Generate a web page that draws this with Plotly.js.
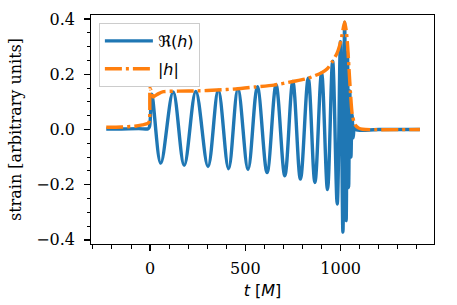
<!DOCTYPE html>
<html>
<head>
<meta charset="utf-8">
<script src="https://cdn.plot.ly/plotly-3.0.1.min.js"></script>
<style>
  html, body { margin: 0; padding: 0; background: white; }
  #chart { width: 457px; height: 305px; }
</style>
</head>
<body>
<div id="chart"></div>
<script>
// Re(h): extrema
const tRe = [-230, -150, -60, -10, -3, 9, 56, 121, 179, 240, 304, 358, 412, 461, 514, 563, 614, 661, 707, 749, 789, 830, 865, 900, 931, 958, 982, 999, 1012, 1021, 1029, 1036, 1042, 1048, 1054, 1060, 1066, 1072, 1080, 1200, 1416];
const reH = [0.002, 0.002, 0.003, 0.003, 0.01, 0.128, -0.122, 0.136, -0.13, 0.138, -0.134, 0.142, -0.142, 0.148, -0.145, 0.155, -0.156, 0.162, -0.168, 0.174, -0.18, 0.186, -0.192, 0.206, -0.218, 0.248, -0.27, 0.318, -0.372, 0.388, -0.33, 0.28, -0.21, 0.14, -0.1, 0.055, -0.03, 0.012, 0.0, 0.0, 0.0];

// |h|: envelope
const tAbs = [-230, -150, -80, -40, -12, -4, 0, 6, 16, 26, 45, 70, 150, 250, 350, 450, 550, 650, 750, 830, 900, 930, 958, 980, 995, 1008, 1021, 1030, 1037, 1044, 1052, 1061, 1075, 1095, 1115, 1416];
const absH = [0.008, 0.009, 0.012, 0.017, 0.022, 0.03, 0.15, 0.14, 0.118, 0.122, 0.13, 0.137, 0.139, 0.14, 0.143, 0.147, 0.154, 0.161, 0.174, 0.186, 0.206, 0.22, 0.248, 0.275, 0.305, 0.345, 0.39, 0.355, 0.30, 0.22, 0.13, 0.055, 0.018, 0.005, 0.001, 0.0];

const xTickVals = [0, 500, 1000];
const xTickText = ['0', '500', '1000'];
const yTickVals = [-0.4, -0.2, 0.0, 0.2, 0.4];
const yTickText = ['\u22120.4', '\u22120.2', '0.0', '0.2', '0.4'];

const seriesNames = ['\u211C(<i>h</i>)', '|<i>h</i>|'];

const traces = [
  {
    x: tRe, y: reH, type: 'scatter', mode: 'lines', name: seriesNames[0],
    legendgroup: 'a',
    line: { color: '#1f77b4', width: 3.4, shape: 'spline', smoothing: 1 }
  },
  {
    x: tAbs, y: absH, type: 'scatter', mode: 'lines', name: seriesNames[1],
    legendgroup: 'b',
    line: { color: '#ff7f0e', width: 3.4, shape: 'spline', smoothing: 0.7, dash: '17px,4px,3px,4px' }
  }
];

const axisCommon = {
  showgrid: false, zeroline: false, showline: true, mirror: true,
  linecolor: 'black', linewidth: 1.3,
  ticks: 'outside', ticklen: 5.5, tickwidth: 1.3, tickcolor: 'black',
  tickfont: { family: 'DejaVu Serif', size: 16, color: 'black' },
  automargin: false
};

const layout = {
  width: 457, height: 305,
  margin: { l: 91, r: 23, t: 15, b: 61 },
  paper_bgcolor: 'white', plot_bgcolor: 'white',
  showlegend: true,
  legend: {
    x: 0.023, y: 0.965, xanchor: 'left', yanchor: 'top',
    bgcolor: 'rgba(255,255,255,0.8)', bordercolor: '#cccccc', borderwidth: 1,
    font: { family: 'DejaVu Sans', size: 16, color: 'black' },
    itemwidth: 48, tracegroupgap: 4, traceorder: 'grouped'
  },
  xaxis: Object.assign({}, axisCommon, {
    range: [-310, 1490],
    tickmode: 'array', tickvals: xTickVals, ticktext: xTickText,
    ticklabelstandoff: 4,
    minor: { tickmode: 'linear', tick0: 0, dtick: 100, ticks: 'outside', ticklen: 3.2, tickwidth: 1, tickcolor: 'black' },
    title: { text: '<i>t</i> [<i>M</i>]', font: { family: 'DejaVu Sans', size: 16, color: 'black' }, standoff: 7 }
  }),
  yaxis: Object.assign({}, axisCommon, {
    range: [-0.415, 0.415],
    tickmode: 'array', tickvals: yTickVals, ticktext: yTickText,
    ticklabelstandoff: 6,
    minor: { tickmode: 'linear', tick0: 0, dtick: 0.05, ticks: 'outside', ticklen: 3.2, tickwidth: 1, tickcolor: 'black' },
    title: { text: 'strain [arbitrary units]', font: { family: 'DejaVu Serif', size: 16, color: 'black' }, standoff: 10 }
  })
};

Plotly.newPlot('chart', traces, layout, { displayModeBar: false, staticPlot: true });
</script>
</body>
</html>
